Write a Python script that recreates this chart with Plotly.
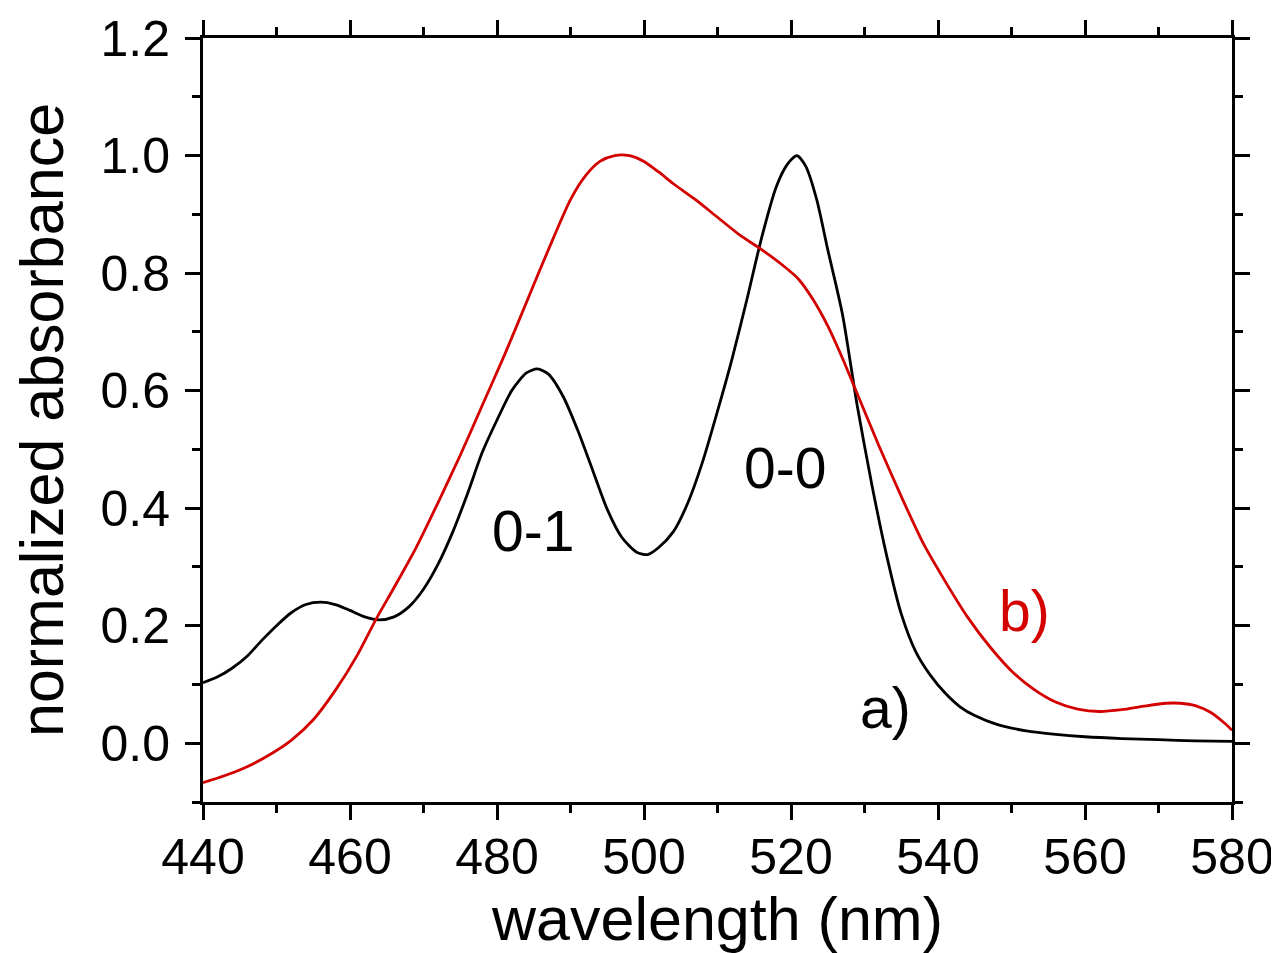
import plotly.graph_objects as go

# wavelength (nm) and normalized absorbance, curve a) black
a_wavelength = [440, 442, 444, 446, 448, 450, 452, 454, 456, 458, 460, 462, 464, 466, 468,
                470, 472, 474, 476, 478, 480, 482, 484, 485.5, 487, 489, 491, 493, 495, 497,
                499, 500.5, 502, 504, 506, 508, 510, 512, 514, 516, 518, 519.5, 520.8, 522,
                523.5, 525, 527, 529, 531, 533, 535, 537, 539, 541, 543, 545, 548, 552, 556,
                560, 565, 570, 575, 580]
a_absorbance = [0.103, 0.113, 0.128, 0.148, 0.175, 0.2, 0.222, 0.236, 0.24, 0.236, 0.226,
                0.215, 0.21, 0.215, 0.232, 0.262, 0.305, 0.36, 0.425, 0.495, 0.55, 0.6,
                0.63, 0.637, 0.628, 0.59, 0.532, 0.465, 0.398, 0.35, 0.325, 0.321, 0.333,
                0.36, 0.41, 0.48, 0.565, 0.655, 0.755, 0.86, 0.947, 0.985, 1.0, 0.982, 0.925,
                0.84, 0.73, 0.575, 0.44, 0.32, 0.22, 0.155, 0.115, 0.085, 0.062, 0.047,
                0.032, 0.021, 0.015, 0.011, 0.008, 0.006, 0.004, 0.003]

# curve b) red
b_wavelength = [440, 443, 446, 449, 452, 455, 458, 461, 463.5, 466, 469, 472, 475, 478, 481,
                484, 487, 490, 492, 494, 496, 498, 500, 502, 504, 507, 510, 513, 516, 519,
                521, 523, 525, 527, 529, 532, 535, 538, 541, 544, 547, 550, 553, 556, 559,
                562, 565, 568, 571, 573, 575, 577, 579, 580]
b_absorbance = [-0.067, -0.055, -0.04, -0.02, 0.005, 0.04, 0.09, 0.15, 0.21, 0.265, 0.333,
                0.41, 0.49, 0.575, 0.66, 0.75, 0.84, 0.925, 0.965, 0.99, 1.0, 1.0, 0.99,
                0.972, 0.952, 0.925, 0.895, 0.865, 0.84, 0.812, 0.79, 0.755, 0.71, 0.655,
                0.595, 0.505, 0.42, 0.34, 0.275, 0.215, 0.165, 0.123, 0.092, 0.07, 0.058,
                0.054, 0.057, 0.063, 0.068, 0.068, 0.064, 0.053, 0.034, 0.022]

# annotation labels
label_texts = ["0-1", "0-0", "a)", "b)"]
label_x = [484.9, 519.2, 532.9, 551.7]
label_y = [0.354, 0.462, 0.054, 0.219]
label_colors = ["black", "black", "black", "#d40000"]

x_ticks = [440, 460, 480, 500, 520, 540, 560, 580]
y_ticks = [0.0, 0.2, 0.4, 0.6, 0.8, 1.0, 1.2]

FONT = "Liberation Sans, Arial, sans-serif"

fig = go.Figure()
fig.add_trace(go.Scatter(x=a_wavelength, y=a_absorbance, mode="lines",
                         line=dict(color="black", width=2.8, shape="spline", smoothing=0.7),
                         showlegend=False))
fig.add_trace(go.Scatter(x=b_wavelength, y=b_absorbance, mode="lines",
                         line=dict(color="#d40000", width=2.8, shape="spline", smoothing=0.7),
                         showlegend=False))

for t, x, y, c in zip(label_texts, label_x, label_y, label_colors):
    fig.add_annotation(x=x, y=y, text=t, showarrow=False, xanchor="center", yanchor="middle",
                       yshift=4, font=dict(family=FONT, size=57, color=c))

axis_common = dict(showline=True, linecolor="black", linewidth=3, mirror="ticks",
                   ticks="outside", ticklen=15, tickwidth=3, tickcolor="black",
                   showgrid=False, zeroline=False, automargin=False,
                   tickfont=dict(family=FONT, size=50, color="black"))

fig.update_xaxes(range=[440, 580], tickvals=x_ticks, ticklabelstandoff=-6,
                 minor=dict(ticks="outside", ticklen=8, tickwidth=2.5, dtick=10, tick0=440,
                            tickcolor="black", showgrid=False),
                 title=dict(text="wavelength (nm)", font=dict(family=FONT, size=61, color="black"),
                            standoff=0),
                 **axis_common)
fig.update_yaxes(range=[-0.1, 1.2], tickvals=y_ticks, tickformat=".1f", ticklabelstandoff=5,
                 minor=dict(ticks="outside", ticklen=8, tickwidth=2.5, dtick=0.1, tick0=0,
                            tickcolor="black", showgrid=False),
                 title=dict(text="normalized absorbance", font=dict(family=FONT, size=61, color="black"),
                            standoff=37),
                 **axis_common)

# page body has an 8px default margin, so the figure starts at (8, 8) in the window
fig.update_layout(width=1271, height=945, autosize=False,
                  margin=dict(l=195, r=47, t=30, b=151, autoexpand=False),
                  plot_bgcolor="white", paper_bgcolor="white")

fig.write_html("out.html")
